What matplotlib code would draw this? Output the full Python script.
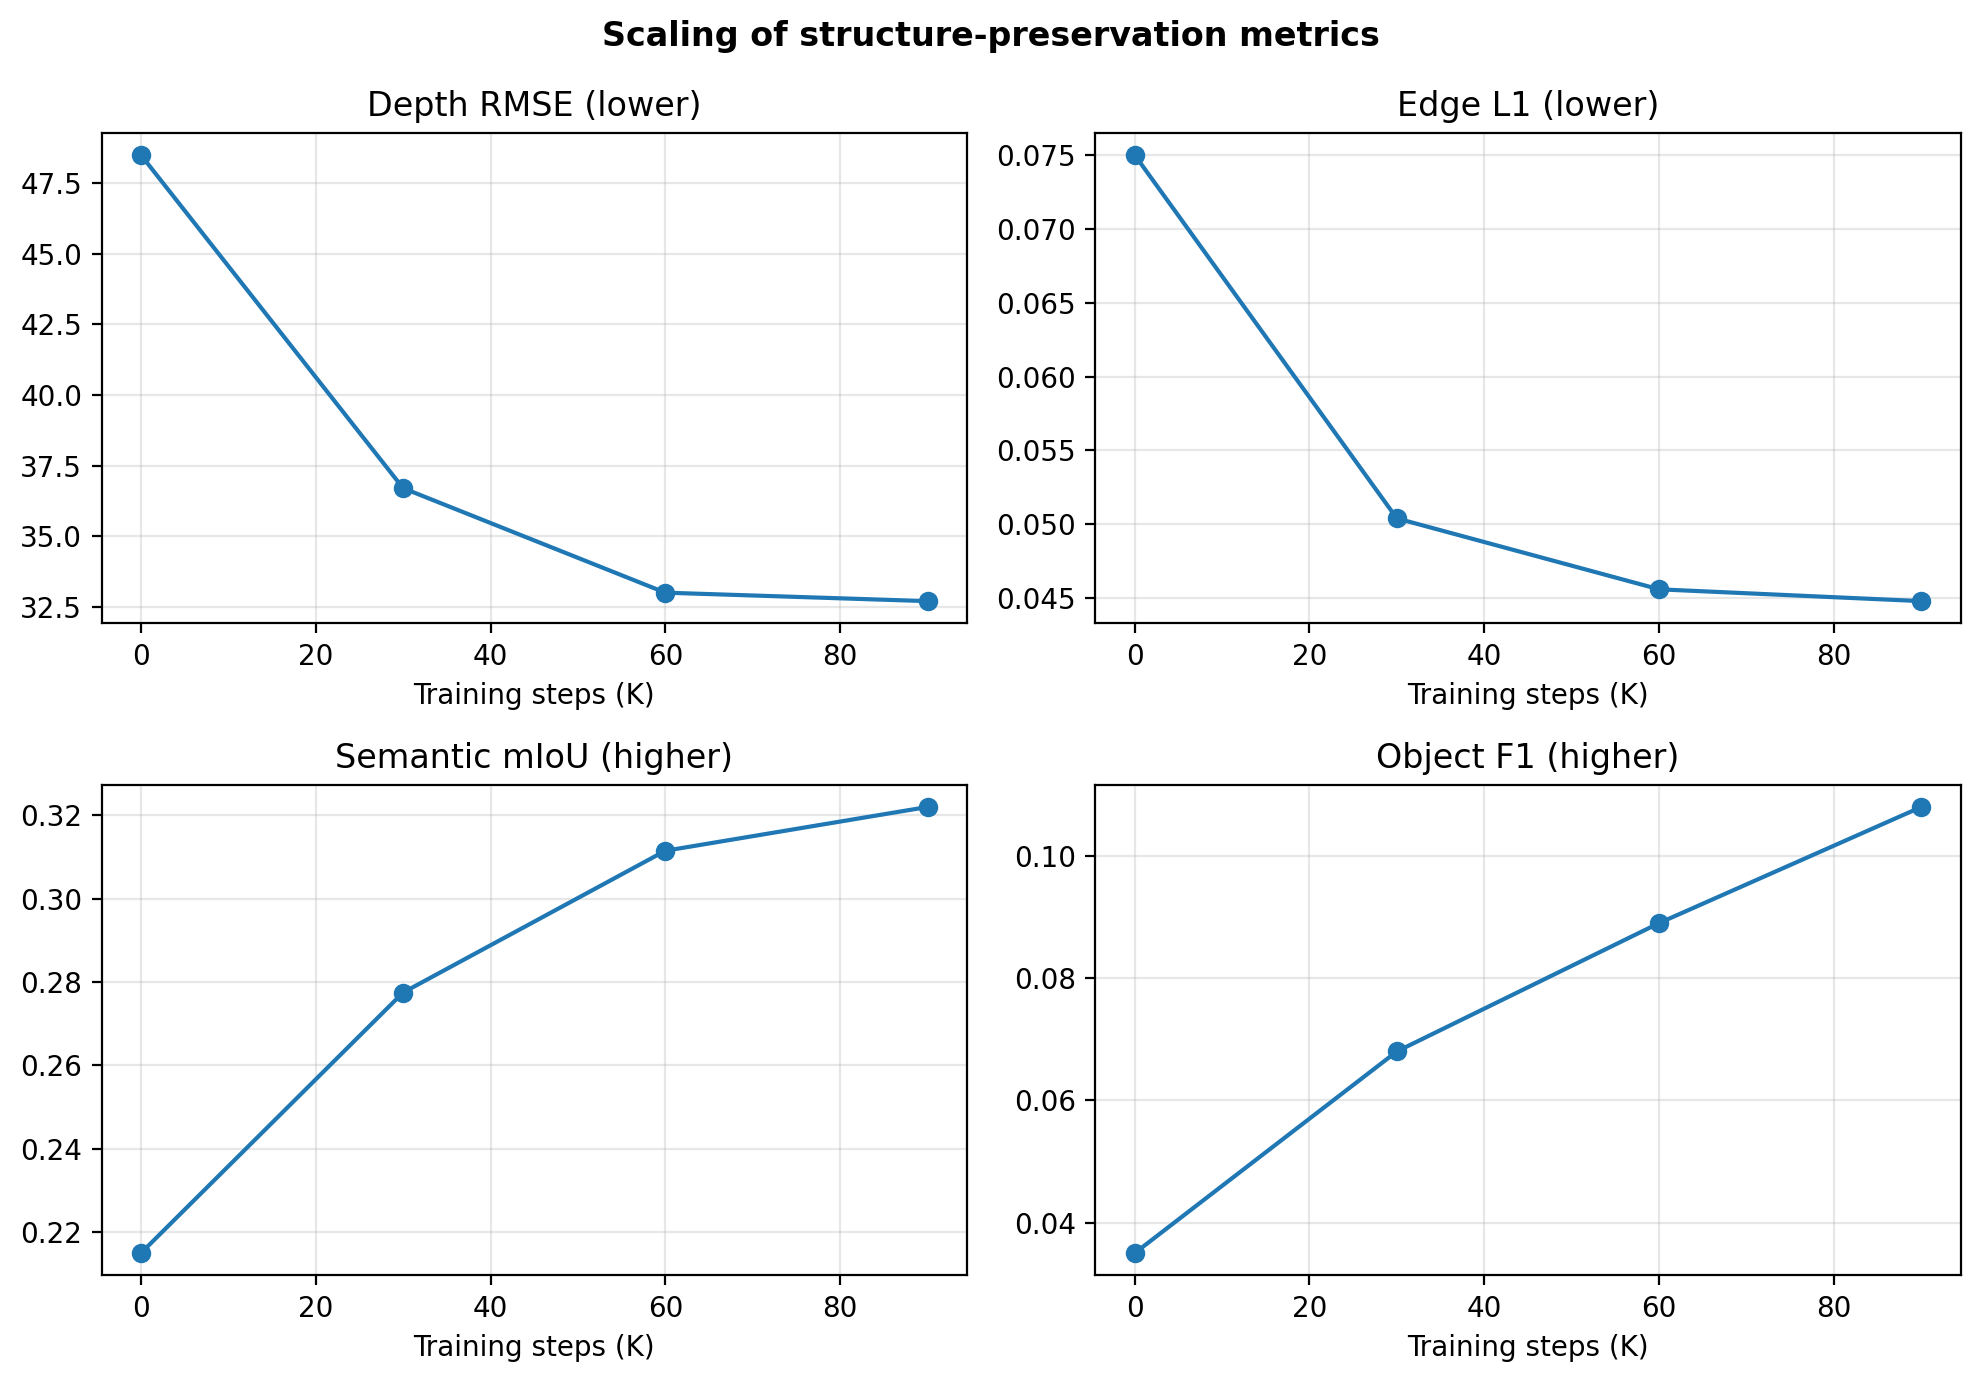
import numpy as np
import matplotlib
matplotlib.use("Agg")
import matplotlib.pyplot as plt

# Data
steps = [0, 30, 60, 90]
depth_rmse = [48.5, 36.7, 33.0, 32.7]
edge_l1 = [0.0750, 0.0504, 0.0456, 0.0448]
semantic_miou = [0.215, 0.2775, 0.3115, 0.322]
object_f1 = [0.035, 0.068, 0.089, 0.108]

titles = ["Depth RMSE (lower)", "Edge L1 (lower)",
          "Semantic mIoU (higher)", "Object F1 (higher)"]
series = [depth_rmse, edge_l1, semantic_miou, object_f1]

fig, axes = plt.subplots(2, 2, figsize=(10, 7))
for ax, title, vals in zip(axes.flat, titles, series):
    ax.plot(steps, vals, marker="o", color="#1f77b4")
    ax.set_title(title)
    ax.set_xlabel("Training steps (K)")
    ax.grid(True, alpha=0.3)

fig.suptitle("Scaling of structure-preservation metrics", fontweight="bold")
fig.tight_layout()
fig.savefig("out.png", dpi=200, bbox_inches="tight")
